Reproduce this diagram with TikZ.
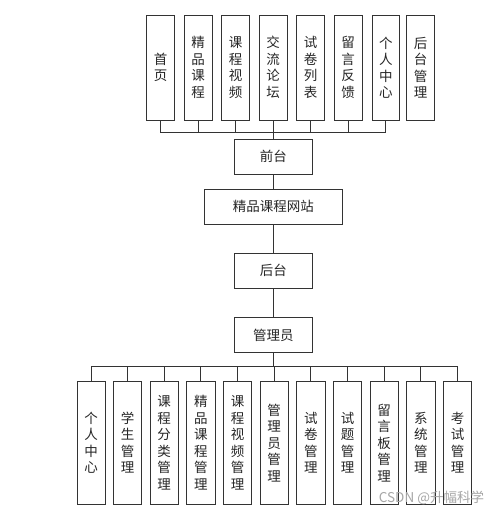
\documentclass[tikz,border=0pt]{standalone}
\usepackage{fontspec}
\setmainfont{Noto Sans CJK SC}
\newfontfamily\cjk{Noto Sans CJK SC}
\begin{document}
\begin{tikzpicture}[x=1pt,y=-1pt,
  every node/.style={font=\cjk\fontsize{13.5}{16.5}\selectfont, text=black!85, inner sep=0pt},
  box/.style={draw=black!80, line width=0.8pt, rectangle, align=center},
  topbox/.style={box, minimum width=27.6pt, minimum height=105pt},
  botbox/.style={box, minimum width=28.3pt, minimum height=122.3pt},
  midbox/.style={box, minimum width=78.3pt, minimum height=35pt},
  conn/.style={draw=black!80, line width=0.8pt}]
\useasboundingbox[fill=white] (0,0) rectangle (499,513);
% top row
\node[topbox] (t1) at (160.5,67.5) {首\\页};
\node[topbox] (t2) at (198.2,67.5) {精\\品\\课\\程};
\node[topbox] (t3) at (235.5,67.5) {课\\程\\视\\频};
\node[topbox] (t4) at (273.2,67.5) {交\\流\\论\\坛};
\node[topbox] (t5) at (310.5,67.5) {试\\卷\\列\\表};
\node[topbox] (t6) at (348.2,67.5) {留\\言\\反\\馈};
\node[topbox] (t7) at (385.8,67.5) {个\\人\\中\\心};
\node[topbox] (t8) at (420.5,67.5) {后\\台\\管\\理};
% middle column
\node[midbox] (front) at (273.3,156.8) {前台};
\node[box, minimum width=138.7pt, minimum height=35pt] (site) at (273.3,206.8) {精品课程网站};
\node[midbox] (back) at (273.3,270.8) {后台};
\node[midbox] (admin) at (273.3,335) {管理员};
% bottom row
\node[botbox] (b1) at (91.2,442.8) {个\\人\\中\\心};
\node[botbox] (b2) at (127.5,442.8) {学\\生\\管\\理};
\node[botbox] (b3) at (164.2,442.8) {课\\程\\分\\类\\管\\理};
\node[botbox] (b4) at (200.8,442.8) {精\\品\\课\\程\\管\\理};
\node[botbox] (b5) at (237.5,442.8) {课\\程\\视\\频\\管\\理};
\node[botbox] (b6) at (274.2,442.8) {管\\理\\员\\管\\理};
\node[botbox] (b7) at (310.8,442.8) {试\\卷\\管\\理};
\node[botbox] (b8) at (347.5,442.8) {试\\题\\管\\理};
\node[botbox] (b9) at (384.2,442.8) {留\\言\\板\\管\\理};
\node[botbox] (b10) at (420.8,442.8) {系\\统\\管\\理};
\node[botbox] (b11) at (457.5,442.8) {考\\试\\管\\理};
% bus coordinates
\coordinate (tb) at (273.3,132.7);
\coordinate (bb) at (273.3,366);
% top connectors
\draw[conn] (t1.south |- tb) -- (t7.south |- tb);
\foreach \i in {1,...,7} {\draw[conn] (t\i.south) -- (t\i.south |- tb);}
\draw[conn] (tb) -- (front.north);
% middle connectors
\draw[conn] (front) -- (site);
\draw[conn] (site) -- (back);
\draw[conn] (back) -- (admin);
% bottom connectors
\draw[conn] (admin.south) -- (bb);
\draw[conn] (b1.north |- bb) -- (b11.north |- bb);
\foreach \i in {1,...,11} {\draw[conn] (b\i.north |- bb) -- (b\i.north);}
% watermark
\node[font=\cjk\fontsize{13.5}{13.5}\selectfont, text=black!35] (wm) at (431.5,498) {CSDN @升幅科学};
\end{tikzpicture}
\end{document}
